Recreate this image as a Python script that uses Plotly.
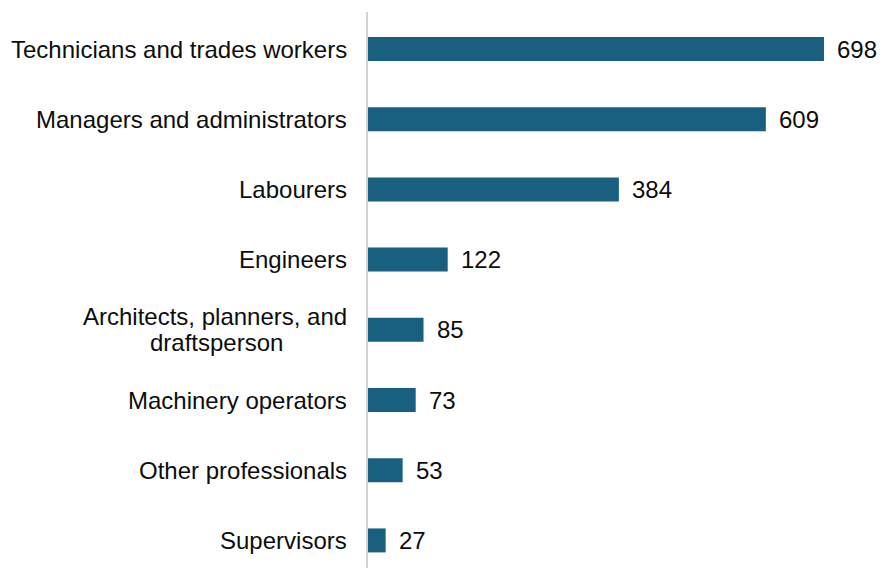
import plotly.graph_objects as go

# Occupations and counts, top to bottom
categories = [
    "Technicians and trades workers",
    "Managers and administrators",
    "Labourers",
    "Engineers",
    "Architects, planners, and<br>draftsperson",
    "Machinery operators",
    "Other professionals",
    "Supervisors",
]
values = [698, 609, 384, 122, 85, 73, 53, 27]

BAR_COLOR = "#185F80"
FONT = "Liberation Sans, Arial, sans-serif"
FONT_SIZE = 24
LABEL_PAD = 19      # px between category labels and the axis
LINE_GAP = 26       # px between lines of a wrapped category label
WRAP_CENTRE = 152   # px from the axis to the centre of a wrapped label

fig = go.Figure(
    go.Bar(
        x=values,
        y=list(range(len(categories))),
        orientation="h",
        marker=dict(color=BAR_COLOR, line=dict(width=0)),
        hoverinfo="skip",
    )
)

text_font = dict(family=FONT, size=FONT_SIZE, color="#0d0d0d")
annotations = []
# Category labels left of the axis; wrapped labels are drawn line by line,
# the first right-aligned to the axis and the rest centred beneath it
for i, cat in enumerate(categories):
    lines = cat.split("<br>")
    n = len(lines)
    for k, line in enumerate(lines):
        first = k == 0
        annotations.append(dict(
            x=0, xref="paper", y=i, yref="y",
            text=line, showarrow=False,
            xanchor="right" if first else "center", yanchor="middle",
            xshift=-LABEL_PAD if first else -WRAP_CENTRE,
            yshift=((n - 1) / 2 - k) * LINE_GAP,
            font=text_font,
        ))

# Value labels at the end of each bar
for i, v in enumerate(values):
    annotations.append(dict(
        x=v, xref="x", y=i, yref="y",
        text=str(v), showarrow=False,
        xanchor="left", yanchor="middle",
        xshift=11,
        font=text_font,
    ))

fig.update_layout(
    width=882, height=568,
    margin=dict(l=368, r=0, t=12, b=0),
    paper_bgcolor="white", plot_bgcolor="white",
    showlegend=False,
    bargap=0.658,
    annotations=annotations,
    xaxis=dict(
        range=[0, 786.8], visible=False, showgrid=False, zeroline=False,
    ),
    yaxis=dict(
        range=[7.393, -0.527], showticklabels=False, ticks="",
        showgrid=False, zeroline=False,
        showline=True, linecolor="#d4d4d4", linewidth=2,
    ),
)

fig.write_html("out.html")
